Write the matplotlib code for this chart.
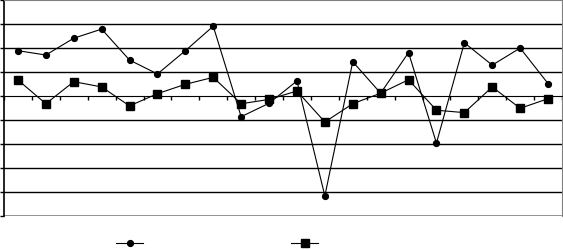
import matplotlib
matplotlib.use("Agg")
import matplotlib.pyplot as plt
import numpy as np

# values
cats = list(range(1, 21))
series1 = [1.90, 1.72, 2.42, 2.80, 1.51, 0.93, 1.90, 2.92, -0.85, -0.29,
           0.64, -4.15, 1.44, 0.13, 1.82, -1.95, 2.23, 1.30, 2.01, 0.53]
series2 = [0.68, -0.31, 0.61, 0.39, -0.40, 0.11, 0.50, 0.79, -0.31, -0.13,
           0.22, -1.07, -0.31, 0.13, 0.69, -0.58, -0.68, 0.39, -0.50, -0.10]
yticks = [-5, -4, -3, -2, -1, 0, 1, 2, 3, 4]

fig = plt.figure(figsize=(5.63, 2.5), dpi=100)
ax = fig.add_axes([4/563, 1 - 216.3/250, 558/563, 216/250])

for t in yticks[1:-1]:
    if t != 0:
        ax.axhline(t, color="black", lw=1.0, zorder=1)
ax.axhline(-5, color="#808080", lw=1.2, zorder=1)

ax.plot(cats, series1, color="black", lw=0.8, marker="o", ms=4.2, label="Series1", zorder=3)
ax.plot(cats, series2, color="black", lw=0.8, marker="s", ms=5.5, label="Series2", zorder=3)

ax.set_xlim(0.5, 20.5)
ax.set_ylim(-5, 4)
ax.set_yticks(yticks)
ax.set_xticks(np.arange(0.5, 21, 1))
ax.tick_params(axis="x", direction="out", length=3, width=1, labelbottom=False)
ax.tick_params(axis="y", direction="out", length=3, width=1, labelleft=False)

ax.spines["bottom"].set_position(("data", 0))
ax.spines["bottom"].set_color("black")
ax.spines["left"].set_color("black")
ax.spines["left"].set_linewidth(1.2)
ax.spines["top"].set_color("#808080")
ax.spines["right"].set_color("#808080")

leg = fig.legend(loc="center left", bbox_to_anchor=(116/563, 6/250), ncol=2,
                 frameon=False, fontsize=8, borderpad=0, borderaxespad=0,
                 handlelength=2.45, handletextpad=0.8, columnspacing=8.8)
for txt in leg.get_texts():
    txt.set_color("white")

fig.savefig("out.png", dpi=100)
